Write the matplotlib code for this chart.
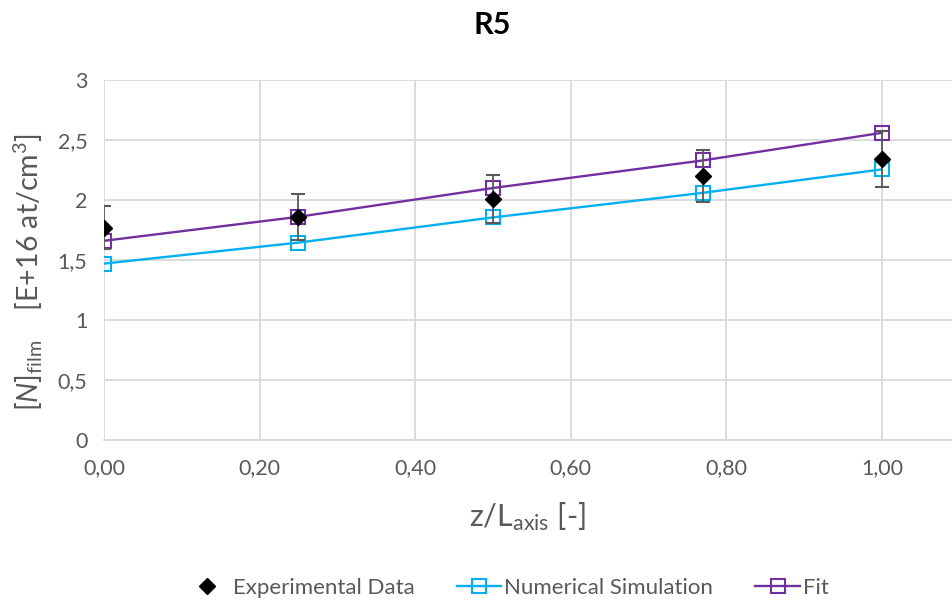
import matplotlib
matplotlib.use("Agg")
import matplotlib.pyplot as plt
from matplotlib.lines import Line2D

plt.rcParams['font.family'] = ['Lato', 'DejaVu Sans']
plt.rcParams['mathtext.fontset'] = 'custom'
plt.rcParams['mathtext.rm'] = 'Lato'
plt.rcParams['mathtext.it'] = 'Lato:italic'

# Data
z = [0.0, 0.25, 0.50, 0.77, 1.00]
exp_vals = [1.77, 1.86, 2.01, 2.20, 2.34]
exp_err = [0.18, 0.19, 0.20, 0.22, 0.235]
sim_vals = [1.47, 1.645, 1.855, 2.06, 2.255]
fit_vals = [1.66, 1.86, 2.10, 2.33, 2.56]

x_ticks = [0.0, 0.2, 0.4, 0.6, 0.8, 1.0]
x_ticklabels = ['0,00', '0,20', '0,40', '0,60', '0,80', '1,00']
y_ticks = [0, 0.5, 1, 1.5, 2, 2.5, 3]
y_ticklabels = ['0', '0,5', '1', '1,5', '2', '2,5', '3']

BLUE = '#00B0F0'
PURPLE = '#7030A0'
TEXT = '#595959'
GRID = '#D9D9D9'

W, H = 953, 603
fig = plt.figure(figsize=(W / 100, H / 100), dpi=100)
ax = fig.add_axes([104 / W, 1 - 440 / H, (952 - 104) / W, 360 / H])

ax.set_xlim(0, 1.09)
ax.set_ylim(0, 3)
ax.set_xticks(x_ticks)
ax.set_xticklabels(x_ticklabels)
ax.set_yticks(y_ticks)
ax.set_yticklabels(y_ticklabels)
ax.tick_params(axis='both', length=0, labelsize=15.5, colors=TEXT)
ax.tick_params(axis='x', pad=13)
ax.tick_params(axis='y', pad=12)
ax.grid(True, color=GRID, linewidth=1.3)
ax.set_axisbelow(True)
for s in ['top', 'right', 'left']:
    ax.spines[s].set_visible(False)
ax.spines['bottom'].set_color(GRID)
ax.spines['bottom'].set_linewidth(1.3)

ax.plot(z, sim_vals, color=BLUE, lw=1.7, marker='s', ms=10,
        mfc='none', mec=BLUE, mew=1.5, zorder=3)
ax.plot(z, fit_vals, color=PURPLE, lw=1.7, marker='s', ms=10,
        mfc='none', mec=PURPLE, mew=1.5, zorder=3)
ax.errorbar(z, exp_vals, yerr=exp_err, fmt='D', color='black', ms=8,
            ecolor=TEXT, elinewidth=1.3, capsize=5, capthick=1.5, zorder=4)

fig.text(527 / W, 1 - 517 / H, r'z/L$_{\mathrm{axis}}$ [-]', ha='center', va='center',
         fontsize=22, color=TEXT)
fig.text(28 / W, 1 - 272 / H,
         r'[$\mathit{N}$]$_{\mathrm{film}}$    [E+16 at/cm$^{3}$]',
         ha='center', va='center', rotation=90, fontsize=20.5, color=TEXT)

fig.text(492 / W, 1 - 25 / H, 'R5', ha='center', va='center',
         fontsize=22, fontweight='bold', color='black')

handles = [
    Line2D([], [], ls='none', marker='D', color='black', ms=8),
    Line2D([], [], color=BLUE, lw=1.7, marker='s', ms=10, mfc='none', mew=1.5),
    Line2D([], [], color=PURPLE, lw=1.7, marker='s', ms=10, mfc='none', mew=1.5),
]
labels = ['Experimental Data', 'Numerical Simulation', 'Fit']
leg = fig.legend(handles, labels, loc='center', bbox_to_anchor=(507 / W, 1 - 588 / H),
                 ncol=3, frameon=False, fontsize=16, handlelength=2.0,
                 columnspacing=1.9, handletextpad=0.15)
for t in leg.get_texts():
    t.set_color(TEXT)

fig.savefig('out.png', dpi=100)
